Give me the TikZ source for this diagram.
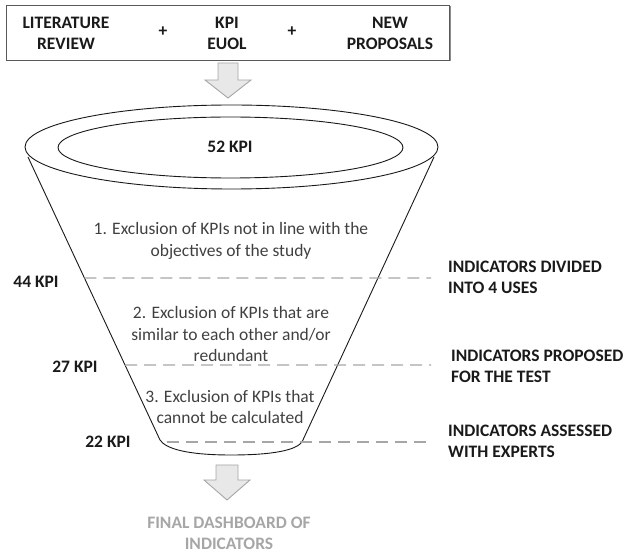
\documentclass[tikz,border=0pt]{standalone}
\usepackage{fontspec}
\setmainfont{Carlito}
\usetikzlibrary{calc}
\definecolor{inkdark}{HTML}{1A1A1A}
\definecolor{stepgray}{HTML}{404040}
\definecolor{boxline}{HTML}{595959}
\definecolor{guidegray}{HTML}{A6A6A6}
\definecolor{arrowfill}{HTML}{E8E8E8}
\definecolor{arrowline}{HTML}{A6A6A6}
\definecolor{finalgray}{HTML}{A6A6A6}
\begin{document}
\begin{tikzpicture}[x=1pt,y=-1pt,
  boldlbl/.style={font=\fontsize{17.5}{21}\selectfont\bfseries, text=inkdark, align=center, inner sep=0pt},
  sidelbl/.style={boldlbl, align=left, anchor=west},
  steptxt/.style={font=\fontsize{17.5}{21.5}\selectfont, text=stepgray, align=center, inner sep=0pt},
  funnelline/.style={draw=black!90, line width=0.9pt},
  guide/.style={draw=guidegray, line width=1.4pt, dash pattern=on 12pt off 7pt},
  blockarrow/.style={draw=arrowline, fill=arrowfill, line width=0.9pt, line join=miter}
]
% page frame
\useasboundingbox (0,0) rectangle (625,553);

% source box with a light drop shadow
\fill[black!45] (7.5,6.5) rectangle (450.5,61.5);
\node[draw=boxline, fill=white, line width=0.9pt, minimum width=443pt, minimum height=55pt, anchor=north west] (src) at (6,5) {};
\node[boldlbl] (lit) at (66,33) {LITERATURE\\REVIEW};
\node[boldlbl] (plusa) at (163,32) {+};
\node[boldlbl] (kpi) at (227,33) {KPI\\EUOL};
\node[boldlbl] (plusb) at (292,32) {+};
\node[boldlbl] (newp) at (390,33) {NEW\\PROPOSALS};

% block arrow into the funnel
\draw[blockarrow] (218,63) -- (238,63) -- (238,80) -- (251,80) -- (228,98) -- (205,80) -- (218,80) -- cycle;

% funnel rim
\draw[funnelline] (231.5,147) ellipse [x radius=206.5, y radius=42];
\draw[funnelline] (230.5,147.5) ellipse [x radius=172.5, y radius=30.5];
\node[boldlbl] (n52) at (230,147) {52 KPI};

% funnel body
\coordinate (tl) at (28,157);
\coordinate (tr) at (434,157);
\coordinate (bl) at (160,440);
\coordinate (br) at (302,442);
\draw[funnelline] (tl) -- (bl) .. controls (166,449) and (188,455) .. (231,455) .. controls (274,455) and (296,450) .. (br) -- (tr);

% stage guides, starting on the left wall of the funnel
\coordinate (ga) at ($(tl)!{(278-157)/283}!(bl)$);
\coordinate (gb) at ($(tl)!{(365-157)/283}!(bl)$);
\coordinate (gc) at (167,442);
\coordinate (gae) at (431,278);
\coordinate (gbe) at (431,365);
\coordinate (gce) at (431,442);
\draw[guide] (ga) -- (gae);
\draw[guide] (gb) -- (gbe);
\draw[guide] (gc) -- (gce);

% stage texts
\node[steptxt] (s1) at (231,241) {1. Exclusion of KPIs not in line with the\\objectives of the study};
\node[steptxt] (s2) at (231,334) {2. Exclusion of KPIs that are\\similar to each other and/or\\redundant};
\node[steptxt] (s3) at (230,407) {3. Exclusion of KPIs that\\cannot be calculated};

% counts
\node[boldlbl] (k44) at (36,282) {44 KPI};
\node[boldlbl] (k27) at (75,367) {27 KPI};
\node[boldlbl] (k22) at (108,442) {22 KPI};

% outcomes
\node[sidelbl] (o1) at (448,277.5) {INDICATORS DIVIDED\\INTO 4 USES};
\node[sidelbl] (o2) at (451,366) {INDICATORS PROPOSED\\FOR THE TEST};
\node[sidelbl] (o3) at (448,441.5) {INDICATORS ASSESSED\\WITH EXPERTS};

% block arrow out of the funnel
\draw[blockarrow] (216,465) -- (238,465) -- (238,480) -- (250,480) -- (227,500) -- (204,480) -- (216,480) -- cycle;

\node[boldlbl, text=finalgray] (final) at (229,533) {FINAL DASHBOARD OF\\INDICATORS};
\end{tikzpicture}
\end{document}
